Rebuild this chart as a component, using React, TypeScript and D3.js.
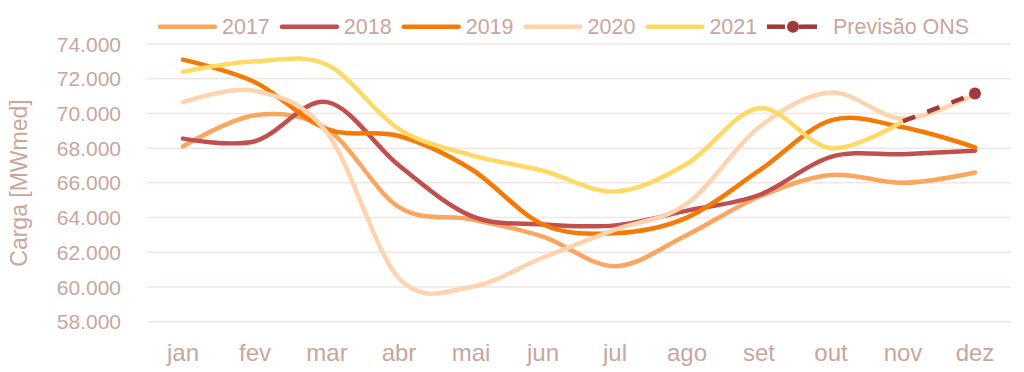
// App.tsx – carga mensal 2017-2021 com previsão ONS
import React, { useEffect, useRef } from 'react';
import * as d3 from 'd3';

const months = ['jan', 'fev', 'mar', 'abr', 'mai', 'jun', 'jul', 'ago', 'set', 'out', 'nov', 'dez'];

const load2017 = [68100, 69900, 69100, 64600, 63900, 62900, 61200, 63000, 65200, 66450, 66000, 66600];
const load2018 = [68550, 68400, 70650, 67000, 64100, 63600, 63550, 64400, 65300, 67500, 67650, 67850];
const load2019 = [73100, 71800, 69100, 68700, 66800, 63600, 63100, 64000, 66700, 69600, 69200, 68050];
const load2020 = [70650, 71300, 68900, 60500, 60000, 61700, 63300, 64800, 69200, 71200, 69700, 71100];
const load2021 = [72400, 73000, 72800, 69100, 67600, 66700, 65500, 67100, 70300, 68000, 69550];
const forecastMonths = ['nov', 'dez'];
const forecastOns = [69550, 71150];

const yTicks = [58000, 60000, 62000, 64000, 66000, 68000, 70000, 72000, 74000];

const series = [
  { name: '2017', values: load2017, color: '#F8A660' },
  { name: '2018', values: load2018, color: '#C0504D' },
  { name: '2019', values: load2019, color: '#F57A05' },
  { name: '2020', values: load2020, color: '#FDD3B0' },
  { name: '2021', values: load2021, color: '#FFD966' },
];
const forecastColor = '#A03A3A';
const textColor = '#C9A69C';
const gridColor = '#F1E5E3';

const W = 1024;
const H = 372;

const App = () => {
  const svgRef = useRef<SVGSVGElement>(null);

  useEffect(() => {
    const svg = d3.select(svgRef.current);
    svg.selectAll('*').remove();

    const x = d3.scaleBand<string>().domain(months).range([147, 1011]);
    const y = d3.scaleLinear().domain([58000, 74000]).range([321.7, 44]);
    const cx = (m: string) => (x(m) as number) + x.bandwidth() / 2;

    const font = '"Liberation Sans", Arial, sans-serif';

    // gridlines
    svg
      .append('g')
      .selectAll('line')
      .data(yTicks)
      .enter()
      .append('line')
      .attr('x1', 147)
      .attr('x2', 1011)
      .attr('y1', (d) => y(d))
      .attr('y2', (d) => y(d))
      .attr('stroke', gridColor)
      .attr('stroke-width', 1.5);

    // y tick labels
    svg
      .append('g')
      .selectAll('text')
      .data(yTicks)
      .enter()
      .append('text')
      .attr('x', 121)
      .attr('y', (d) => y(d))
      .attr('dy', '0.36em')
      .attr('text-anchor', 'end')
      .style('font-family', font)
      .style('font-size', '21px')
      .attr('fill', textColor)
      .text((d) => d3.format(',')(d).replace(/,/g, '.'));

    // y title
    svg
      .append('text')
      .attr('transform', 'translate(19,183) rotate(-90)')
      .attr('dy', '0.36em')
      .attr('text-anchor', 'middle')
      .style('font-family', font)
      .style('font-size', '23px')
      .attr('fill', textColor)
      .text('Carga [MWmed]');

    // x labels
    svg
      .append('g')
      .selectAll('text')
      .data(months)
      .enter()
      .append('text')
      .attr('x', (d) => cx(d))
      .attr('y', 361)
      .attr('text-anchor', 'middle')
      .style('font-family', font)
      .style('font-size', '24px')
      .attr('fill', textColor)
      .text((d) => d);

    const line = d3
      .line<number>()
      .x((_, i) => cx(months[i]))
      .y((d) => y(d))
      .curve(d3.curveCardinal.tension(0));

    // series lines
    series.forEach((s) => {
      svg
        .append('path')
        .attr('d', line(s.values))
        .attr('fill', 'none')
        .attr('stroke', s.color)
        .attr('stroke-width', 4.5)
        .attr('stroke-linecap', 'round')
        .attr('stroke-linejoin', 'round');
    });

    // forecast
    const fLine = d3
      .line<number>()
      .x((_, i) => cx(forecastMonths[i]))
      .y((d) => y(d));
    svg
      .append('path')
      .attr('d', fLine(forecastOns))
      .attr('fill', 'none')
      .attr('stroke', forecastColor)
      .attr('stroke-width', 4.5)
      .attr('stroke-dasharray', '13,13');
    svg
      .append('circle')
      .attr('cx', cx('dez'))
      .attr('cy', y(forecastOns[1]))
      .attr('r', 6)
      .attr('fill', forecastColor);

    // legend
    const legend = svg.append('g');
    const ly = 26.7;
    let lx = 160;
    series.forEach((s) => {
      legend
        .append('line')
        .attr('x1', lx)
        .attr('x2', lx + 55)
        .attr('y1', ly)
        .attr('y2', ly)
        .attr('stroke', s.color)
        .attr('stroke-width', 4.5)
        .attr('stroke-linecap', 'round');
      const t = legend
        .append('text')
        .attr('x', lx + 62)
        .attr('y', ly)
        .attr('dy', '0.36em')
        .style('font-family', font)
        .style('font-size', '21.5px')
        .attr('fill', textColor)
        .text(s.name);
      lx = lx + 62 + (t.node() as SVGTextElement).getComputedTextLength() + 12;
    });
    lx = 767;
    // dash - dot - dash symbol
    [[lx, lx + 14], [lx + 36, lx + 50]].forEach(([a, b]) => {
      legend
        .append('line')
        .attr('x1', a)
        .attr('x2', b)
        .attr('y1', ly)
        .attr('y2', ly)
        .attr('stroke', forecastColor)
        .attr('stroke-width', 4.5);
    });
    legend
      .append('line')
      .attr('x1', lx + 14)
      .attr('x2', lx + 36)
      .attr('y1', ly)
      .attr('y2', ly)
      .attr('stroke', forecastColor)
      .attr('stroke-width', 4.5)
      .attr('stroke-dasharray', '4,14');
    legend
      .append('circle')
      .attr('cx', lx + 26)
      .attr('cy', ly)
      .attr('r', 6)
      .attr('fill', forecastColor);
    legend
      .append('text')
      .attr('x', lx + 66)
      .attr('y', ly)
      .attr('dy', '0.36em')
      .style('font-family', font)
      .style('font-size', '21.5px')
      .attr('fill', textColor)
      .text('Previsão ONS');
  }, []);

  return (
    <svg
      ref={svgRef}
      width={W}
      height={H}
      style={{ position: 'absolute', left: 0, top: 0, background: '#fff' }}
    ></svg>
  );
};

export default App;
